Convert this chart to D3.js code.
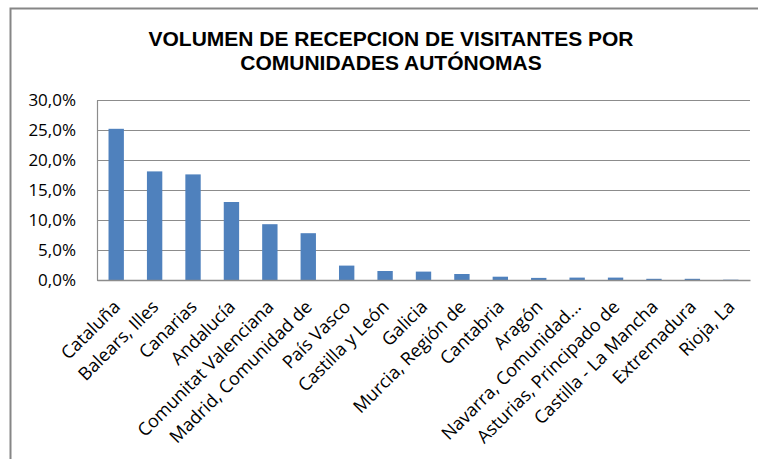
<!DOCTYPE html>
<html>
<head>
<meta charset="utf-8">
<script src="https://cdn.jsdelivr.net/npm/d3@7"></script>
<style>
  body { margin: 0; background: #fff; }
  svg { display: block; }
</style>
</head>
<body>
<svg id="chart"></svg>
<script>
// comunidades y porcentaje de visitantes
var comunidades = ["Cataluña", "Balears, Illes", "Canarias", "Andalucía",
  "Comunitat Valenciana", "Madrid, Comunidad de", "País Vasco", "Castilla y León",
  "Galicia", "Murcia, Región de", "Cantabria", "Aragón", "Navarra, Comunidad...",
  "Asturias, Principado de", "Castilla - La Mancha", "Extremadura", "Rioja, La"];
var porcentajes = [25.2, 18.1, 17.6, 13.0, 9.3, 7.8, 2.4, 1.5, 1.4, 1.0, 0.55, 0.35, 0.4, 0.4, 0.2, 0.2, 0.05];
var yTicks = [0, 5, 10, 15, 20, 25, 30];
var titulo = ["VOLUMEN DE RECEPCION DE VISITANTES POR", "COMUNIDADES AUTÓNOMAS"];

var W = 758, H = 459,
    MARGINS = { top: 100, right: 8, bottom: 179, left: 97 };

var svg = d3.select("#chart").attr("width", W).attr("height", H);

// marco del grafico (se sale por la derecha y por abajo)
svg.append("rect")
  .attr("x", 10.5).attr("y", 8.5)
  .attr("width", W + 10).attr("height", H + 10)
  .attr("fill", "none")
  .attr("stroke", "#868686")
  .attr("stroke-width", 2);

var xScale = d3.scaleBand()
  .domain(comunidades)
  .range([MARGINS.left, W - MARGINS.right])
  .paddingInner(0.6).paddingOuter(0.3);

var yScale = d3.scaleLinear()
  .domain([0, 30])
  .range([H - MARGINS.bottom, MARGINS.top]);

// lineas de division
svg.append("g")
  .selectAll("line")
  .data(yTicks)
  .enter().append("line")
  .attr("x1", MARGINS.left).attr("x2", W - MARGINS.right)
  .attr("y1", function(d) { return Math.round(yScale(d)) + 0.5; })
  .attr("y2", function(d) { return Math.round(yScale(d)) + 0.5; })
  .attr("stroke", "#8c8c8c")
  .attr("stroke-width", 1.2);

var fmt = function(d) { return d.toFixed(1).replace(".", ",") + "%"; };

var yAxis = d3.axisLeft(yScale).tickValues(yTicks).tickFormat(fmt).tickSize(0).tickPadding(21);
var gy = svg.append("g")
  .attr("transform", "translate(" + MARGINS.left + ",0)")
  .call(yAxis);
gy.select(".domain").attr("stroke", "#8c8c8c").attr("stroke-width", 1.2);
gy.selectAll("text")
  .attr("font-family", "'Open Sans', sans-serif")
  .attr("font-size", 17)
  .attr("fill", "#000");

// barras
svg.append("g")
  .selectAll("rect")
  .data(porcentajes)
  .enter().append("rect")
  .attr("x", function(d, i) { return xScale(comunidades[i]); })
  .attr("width", xScale.bandwidth())
  .attr("y", function(d) { return yScale(d); })
  .attr("height", function(d) { return yScale(0) - yScale(d); })
  .attr("fill", "#4f81bd");

// eje x
var xAxis = d3.axisBottom(xScale).tickSize(0).tickPadding(0);
var gx = svg.append("g")
  .attr("transform", "translate(0," + yScale(0) + ")")
  .call(xAxis);
gx.select(".domain").attr("stroke", "#8c8c8c").attr("stroke-width", 1.5);
gx.selectAll("text")
  .attr("font-family", "'Open Sans', sans-serif")
  .attr("font-size", 18)
  .attr("fill", "#000")
  .attr("text-anchor", "end")
  .attr("dy", 0)
  .attr("transform", "translate(5,28) rotate(-45)");

// titulo
svg.append("text")
  .attr("x", 391).attr("y", 46)
  .attr("text-anchor", "middle")
  .attr("font-family", "'Liberation Sans', Arial, sans-serif")
  .attr("font-weight", "bold")
  .attr("font-size", 21)
  .selectAll("tspan")
  .data(titulo)
  .enter().append("tspan")
  .attr("x", 391)
  .attr("dy", function(d, i) { return i ? 24 : 0; })
  .text(function(d) { return d; });
</script>
</body>
</html>
